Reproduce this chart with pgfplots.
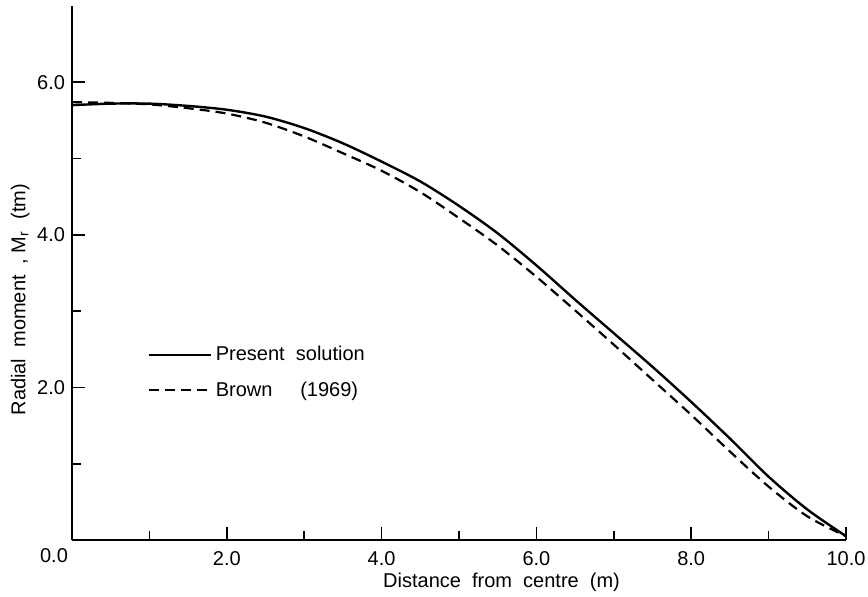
\documentclass[border=0pt]{standalone}
\usepackage{fontspec}
\setmainfont{Liberation Sans}
\usepackage{pgfplots}
\pgfplotsset{compat=1.18}
\begin{document}
\begin{tikzpicture}
\begin{axis}[
  name=ax,
  scale only axis,
  clip=false,
  width=387pt, height=267pt,
  xmin=0, xmax=10, ymin=0, ymax=7,
  axis x line*=bottom, axis y line*=left,
  axis line style={-, line width=0.9pt},
  tick align=inside,
  xtick={2,4,6,8,10},
  minor xtick={1,3,5,7,9},
  ytick={2,4,6},
  minor ytick={1,3,5},
  major tick length=6.5pt,
  minor tick length=4.5pt,
  tick style={line width=0.8pt, black},
  /pgf/number format/.cd, fixed, fixed zerofill, precision=1, assume math mode=true,
  /pgfplots/.cd,
  ticklabel style={font=\fontsize{10}{12}\selectfont},
  xticklabel style={yshift=-2pt},
  xlabel={Distance\ \ from\ \ centre\ \ (m)},
  ylabel={Radial\ \ moment\ \ ,\ M\textsubscript{r}\ \ (tm)},
  label style={font=\fontsize{10}{12}\selectfont},
  x label style={at={(axis description cs:0.555,0)}, anchor=center, yshift=-21pt},
  y label style={at={(axis description cs:-0.067,0.45)}, anchor=center},
  legend style={at={(axis cs:0.97,2.60)}, anchor=north west, draw=none, fill=none,
    font=\fontsize{10}{12}\selectfont, row sep=5pt, inner sep=0pt},
  legend cell align=left,
  legend image code/.code={\draw[#1] (0pt,0pt) -- (31pt,0pt);},
]
\addplot[black, line width=1.2pt, smooth] coordinates {
(0,5.70) (0.5,5.72) (1.0,5.72) (1.5,5.69) (2.0,5.64) (2.5,5.55) (3.0,5.40)
(3.5,5.20) (4.0,4.96) (4.5,4.70) (5.0,4.38) (5.5,4.02) (6.0,3.60) (6.5,3.15)
(7.0,2.71) (7.5,2.27) (8.0,1.81) (8.5,1.33) (9.0,0.83) (9.5,0.40) (10.0,0.05)
};
\addlegendentry{Present\ \ solution}
\addplot[black, line width=1.1pt, smooth, dash pattern=on 5pt off 3pt] coordinates {
(0,5.74) (0.5,5.73) (1.0,5.71) (1.5,5.66) (2.0,5.59) (2.5,5.47) (3.0,5.29)
(3.5,5.07) (4.0,4.84) (4.5,4.56) (5.0,4.22) (5.5,3.86) (6.0,3.45) (6.5,3.01)
(7.0,2.56) (7.5,2.10) (8.0,1.64) (8.5,1.16) (9.0,0.70) (9.5,0.31) (10.0,0.05)
};
\addlegendentry{Brown\ \ \ \ \ (1969)}
\node[font=\fontsize{10}{12}\selectfont] at ([xshift=-9pt,yshift=-8pt]axis cs:0,0) {0.0};
\end{axis}
\pgfresetboundingbox
\path[use as bounding box] (-36pt,-28.5pt) rectangle (398pt,270pt);
\end{tikzpicture}
\end{document}
